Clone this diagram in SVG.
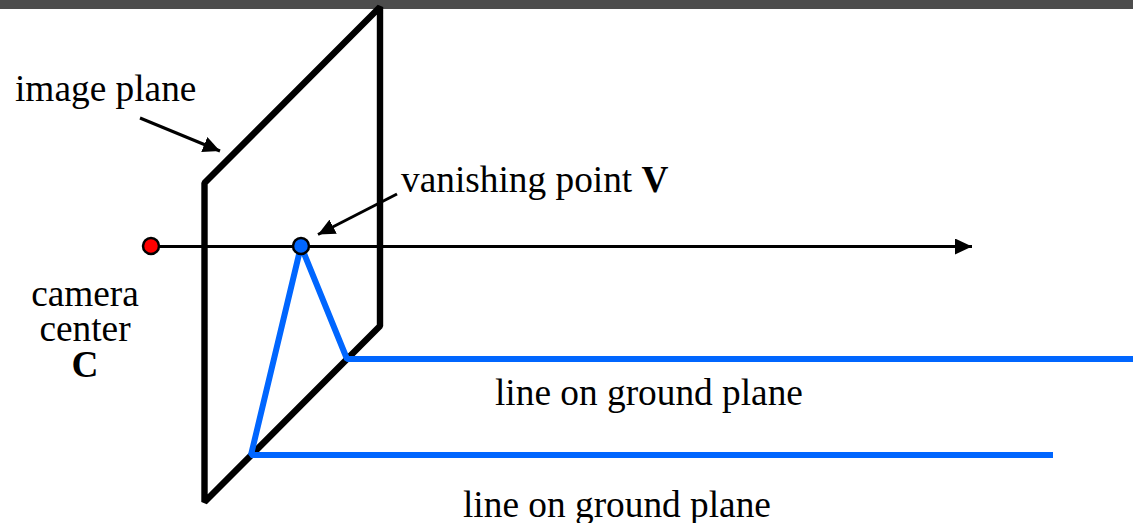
<svg xmlns="http://www.w3.org/2000/svg" width="1133" height="523" viewBox="0 0 1133 523">
<style>
text{font-family:"Liberation Serif","Times New Roman",serif;font-size:37.33px;fill:#000}
.k{fill:none;stroke:#000;stroke-width:6.400;stroke-linejoin:bevel}
.b{fill:none;stroke:#0066ff;stroke-width:6;stroke-linejoin:bevel}
.t{fill:none;stroke:#000;stroke-width:3}
</style>
<defs><marker id="a" markerUnits="userSpaceOnUse" markerWidth="18" markerHeight="16" refX="17" refY="8" orient="auto"><path d="M0 0L17 8L0 16z" fill="#000"/></marker></defs>
<rect width="1133" height="9" fill="#4d4d4d"/>
<g id="image-plane"><path class="k" d="M204.500 183L380 7V326L204.500 502z"/></g>
<g id="connectors">
<path class="t" d="M151 246.500H972" marker-end="url(#a)"/>
<path class="t" d="M140 118L220 151" marker-end="url(#a)"/>
<path class="t" d="M397 194L318 234.500" marker-end="url(#a)"/>
<path class="b" d="M1133 359H347L301 246L251 455H1053"/>
</g>
<g id="camera-center"><circle cx="151" cy="246" r="8" fill="#f00" stroke="#000" stroke-width="2.500"/></g>
<g id="vanishing-point"><circle cx="301" cy="246" r="8" fill="#0066ff" stroke="#000" stroke-width="2.500"/></g>
<g id="labels">
<text x="15" y="101">image plane</text>
<text x="401" y="192">vanishing point <tspan font-weight="bold">V</tspan></text>
<text x="85" y="306" text-anchor="middle">camera</text>
<text x="85" y="341" text-anchor="middle">center</text>
<text x="85" y="377" text-anchor="middle" font-weight="bold">C</text>
<text x="495" y="405">line on ground plane</text>
<text x="463" y="517">line on ground plane</text>
</g>
</svg>
